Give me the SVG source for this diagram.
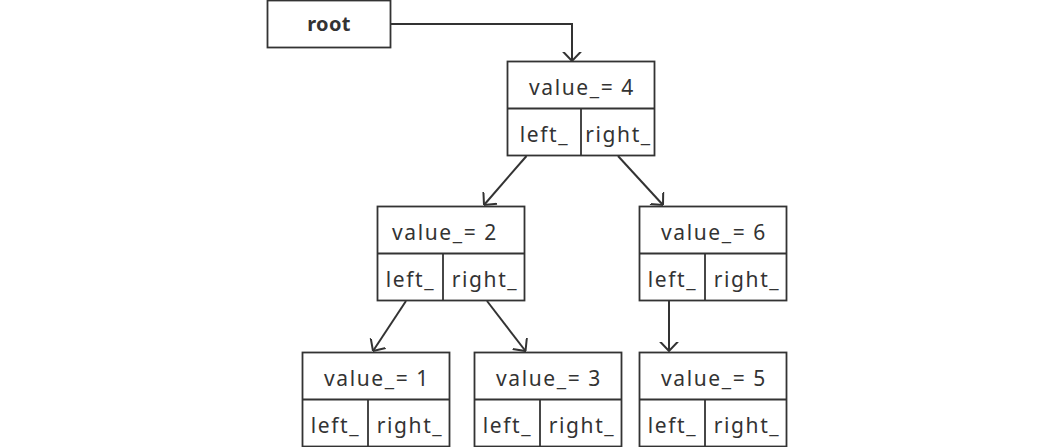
<svg xmlns="http://www.w3.org/2000/svg" width="1054" height="447" viewBox="0 0 1054 447">
<style>
.box{fill:#fff;stroke:#333;stroke-width:1.8}
.ln{stroke:#333;stroke-width:1.8;fill:none}
.t{font-family:"Noto Sans","DejaVu Sans",sans-serif;font-size:21px;fill:#333;text-anchor:middle;letter-spacing:1.6px}
.b{font-weight:bold;font-size:20px;letter-spacing:0.3px}
.c{fill:none;stroke:#333;stroke-width:2}
</style>
<defs>
<marker id="ah" viewBox="0 0 10 20" markerWidth="10" markerHeight="20" refX="9.5" refY="10" orient="auto" markerUnits="userSpaceOnUse">
<path d="M0,1 L9.5,10 L0,19" fill="none" stroke="#333" stroke-width="2"/>
</marker>
</defs>
<rect width="1054" height="447" fill="#fff"/>
<g id="root">
<rect class="box" x="267.5" y="0.5" width="123" height="47"/>
<text class="t b" x="329" y="31">root</text>
</g>
<g id="node4">
<rect class="box" x="507.5" y="61.5" width="147" height="94"/>
<line class="ln" x1="507.5" y1="108.5" x2="654.5" y2="108.5"/>
<line class="ln" x1="581" y1="108.5" x2="581" y2="155.5"/>
<text class="t" x="582" y="95">value_= 4</text>
<text class="t" x="544.5" y="142">left_</text>
<text class="t" x="618.5" y="142">right_</text>
</g>
<g id="node2">
<rect class="box" x="377.5" y="206.5" width="147" height="94"/>
<line class="ln" x1="377.5" y1="253.5" x2="524.5" y2="253.5"/>
<line class="ln" x1="443" y1="253.5" x2="443" y2="300.5"/>
<text class="t" x="445" y="240">value_= 2</text>
<text class="t" x="410.5" y="287">left_</text>
<text class="t" x="485" y="287">right_</text>
</g>
<g id="node6">
<rect class="box" x="639.5" y="206.5" width="147" height="94"/>
<line class="ln" x1="639.5" y1="253.5" x2="786.5" y2="253.5"/>
<line class="ln" x1="705" y1="253.5" x2="705" y2="300.5"/>
<text class="t" x="714" y="240">value_= 6</text>
<text class="t" x="672.5" y="287">left_</text>
<text class="t" x="747" y="287">right_</text>
</g>
<g id="node1">
<rect class="box" x="302.5" y="352.5" width="147" height="94"/>
<line class="ln" x1="302.5" y1="399.5" x2="449.5" y2="399.5"/>
<line class="ln" x1="368" y1="399.5" x2="368" y2="446.5"/>
<text class="t" x="377" y="386">value_= 1</text>
<text class="t" x="335.5" y="433">left_</text>
<text class="t" x="410" y="433">right_</text>
</g>
<g id="node3">
<rect class="box" x="474.5" y="352.5" width="147" height="94"/>
<line class="ln" x1="474.5" y1="399.5" x2="621.5" y2="399.5"/>
<line class="ln" x1="540" y1="399.5" x2="540" y2="446.5"/>
<text class="t" x="549" y="386">value_= 3</text>
<text class="t" x="507.5" y="433">left_</text>
<text class="t" x="582" y="433">right_</text>
</g>
<g id="node5">
<rect class="box" x="639.5" y="352.5" width="147" height="94"/>
<line class="ln" x1="639.5" y1="399.5" x2="786.5" y2="399.5"/>
<line class="ln" x1="705" y1="399.5" x2="705" y2="446.5"/>
<text class="t" x="714" y="386">value_= 5</text>
<text class="t" x="672.5" y="433">left_</text>
<text class="t" x="747" y="433">right_</text>
</g>
<g id="connectors">
<path class="c" d="M391,24 H572 V61" marker-end="url(#ah)"/>
<path class="c" d="M526.5,156 L484,205" marker-end="url(#ah)"/>
<path class="c" d="M618,156 L663,205" marker-end="url(#ah)"/>
<path class="c" d="M406,301 L373,351" marker-end="url(#ah)"/>
<path class="c" d="M487,301 L525.5,351" marker-end="url(#ah)"/>
<path class="c" d="M669,301 V351" marker-end="url(#ah)"/>
</g>
</svg>
